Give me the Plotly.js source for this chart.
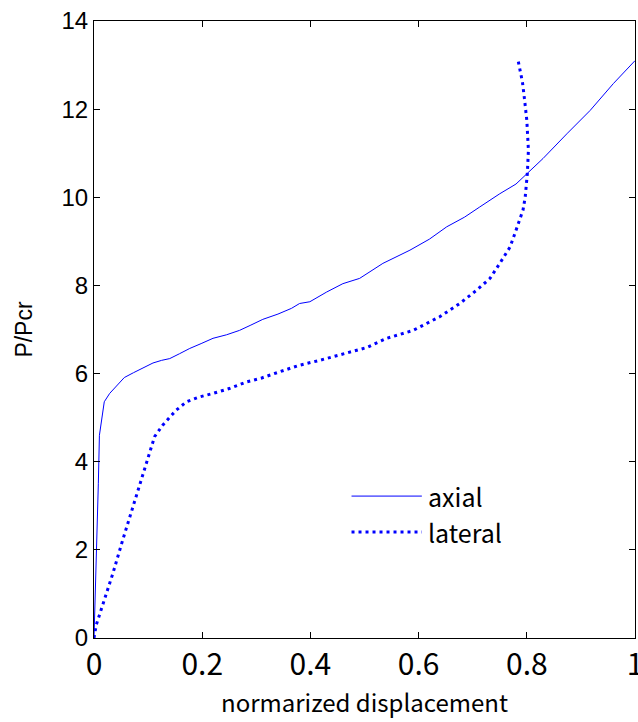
<!DOCTYPE html>
<html>
<head>
<meta charset="utf-8">
<script src="https://cdn.plot.ly/plotly-3.0.1.min.js"></script>
<style>html,body{margin:0;padding:0;background:#fff;}#chart{width:638px;height:722px;}</style>
</head>
<body>
<div id="chart"></div>
<script>
const axialX = [0, 0.004, 0.008, 0.010, 0.019, 0.029, 0.042, 0.056, 0.073, 0.087, 0.109, 0.125, 0.140, 0.158, 0.177, 0.198, 0.220, 0.245, 0.269, 0.290, 0.312, 0.340, 0.365, 0.380, 0.399, 0.430, 0.460, 0.491, 0.534, 0.584, 0.620, 0.652, 0.685, 0.713, 0.750, 0.780, 0.801, 0.830, 0.874, 0.917, 0.960, 1.0];
const axialY = [0, 1.5, 3.5, 4.6, 5.36, 5.55, 5.72, 5.91, 6.02, 6.11, 6.24, 6.30, 6.34, 6.45, 6.57, 6.68, 6.80, 6.88, 6.98, 7.10, 7.23, 7.35, 7.48, 7.59, 7.63, 7.85, 8.04, 8.16, 8.50, 8.80, 9.05, 9.33, 9.55, 9.78, 10.08, 10.30, 10.55, 10.88, 11.44, 11.97, 12.58, 13.1];

const lateralX = [0, 0.004, 0.020, 0.035, 0.053, 0.072, 0.0966, 0.112, 0.127, 0.152, 0.171, 0.195, 0.220, 0.250, 0.282, 0.310, 0.343, 0.380, 0.417, 0.442, 0.504, 0.541, 0.590, 0.639, 0.676, 0.707, 0.732, 0.750, 0.769, 0.778, 0.787, 0.793, 0.797, 0.801, 0.803, 0.802, 0.800, 0.796, 0.792, 0.784];
const lateralY = [0, 0.29, 0.9, 1.47, 2.22, 2.98, 3.96, 4.57, 4.83, 5.17, 5.36, 5.47, 5.55, 5.66, 5.81, 5.90, 6.04, 6.19, 6.30, 6.38, 6.59, 6.80, 6.98, 7.29, 7.59, 7.89, 8.16, 8.50, 8.87, 9.18, 9.48, 9.71, 10.0, 10.54, 11.07, 11.4, 11.75, 12.2, 12.61, 13.1];

const seriesNames = ['axial', 'lateral'];
const xTickVals = [0, 0.2, 0.4, 0.6, 0.8, 1];
const xTickText = ['0', '0.2', '0.4', '0.6', '0.8', '1'];
const yTickVals = [0, 2, 4, 6, 8, 10, 12, 14];
const xTitle = 'normarized displacement';
const yTitle = 'P/Pcr';

const blue = 'rgb(0,0,255)';
const jpFont = '"Noto Sans CJK JP", "Noto Sans", sans-serif';
const arialFont = '"Liberation Sans", Arial, sans-serif';

const traces = [
  {x: axialX, y: axialY, name: seriesNames[0], mode: 'lines', type: 'scatter',
   line: {color: blue, width: 1}},
  {x: lateralX, y: lateralY, name: seriesNames[1], mode: 'lines', type: 'scatter',
   line: {color: blue, width: 3, dash: '3px,4px'}}
];

// manual legend (paper coords) to mimic the long MATLAB legend samples
const legRows = [0.230, 0.172];
const shapes = [
  {type: 'line', xref: 'paper', yref: 'paper', x0: 0.476, x1: 0.606, y0: legRows[0], y1: legRows[0],
   line: {color: blue, width: 1}},
  {type: 'line', xref: 'paper', yref: 'paper', x0: 0.476, x1: 0.606, y0: legRows[1], y1: legRows[1],
   line: {color: blue, width: 3, dash: '3px,4px'}}
];
const annotations = seriesNames.map((n, i) => ({
  text: n, xref: 'paper', yref: 'paper', x: 0.616, y: legRows[i],
  xanchor: 'left', yanchor: 'middle', showarrow: false, borderpad: 0,
  font: {family: jpFont, size: 25, color: '#000'}
}));

const layout = {
  width: 638, height: 722,
  margin: {l: 94, r: 3, t: 21, b: 84},
  paper_bgcolor: '#fff', plot_bgcolor: '#fff',
  showlegend: false,
  xaxis: {
    range: [0, 1], tickmode: 'array', tickvals: xTickVals, ticktext: xTickText,
    ticklabeloverflow: 'allow',
    showgrid: false, zeroline: false,
    showline: true, linecolor: '#000', linewidth: 1, mirror: 'ticks',
    ticks: 'inside', ticklen: 6, tickcolor: '#000', tickwidth: 1,
    tickfont: {family: jpFont, size: 30, color: '#000'},
    title: {text: xTitle, font: {family: jpFont, size: 24, color: '#000'}, standoff: 8}
  },
  yaxis: {
    range: [0, 14], tickmode: 'array', tickvals: yTickVals,
    showgrid: false, zeroline: false,
    showline: true, linecolor: '#000', linewidth: 1, mirror: 'ticks',
    ticks: 'inside', ticklen: 6, tickcolor: '#000', tickwidth: 1,
    tickfont: {family: arialFont, size: 24, color: '#000'},
    title: {text: yTitle, font: {family: arialFont, size: 23, color: '#000'}, standoff: 22}
  },
  shapes: shapes,
  annotations: annotations
};

Plotly.newPlot('chart', traces, layout, {displayModeBar: false, staticPlot: true});
</script>
</body>
</html>
